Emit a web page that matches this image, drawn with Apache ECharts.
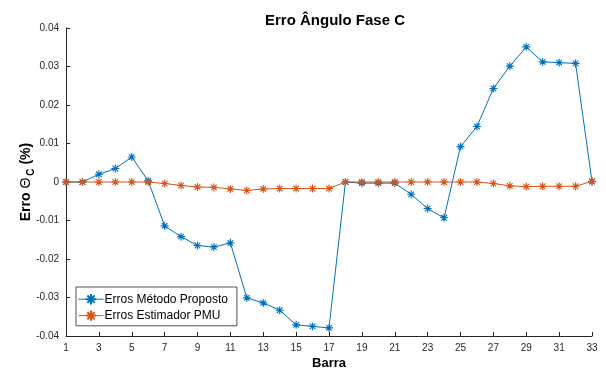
<!DOCTYPE html>
<html>
<head>
<meta charset="utf-8">
<script src="https://cdn.jsdelivr.net/npm/echarts@6/dist/echarts.min.js"></script>
<style>
  html, body { margin: 0; padding: 0; background: #fff; }
  #chart { width: 606px; height: 373px; }
</style>
</head>
<body>
<div id="chart"></div>
<script>
// Bus numbers (Barra 1..33)
const barras = Array.from({ length: 33 }, (_, i) => String(i + 1));

// Phase C angle error (%) — proposed method
const errosMetodoProposto = [
  0.0000, 0.0000, 0.0020, 0.0035, 0.0065, 0.0003, -0.0114, -0.0142, -0.0165, -0.0169,
  -0.0158, -0.0301, -0.0314, -0.0333, -0.0371, -0.0375, -0.0379, 0.0000, -0.0003, -0.0003,
  -0.0003, -0.0032, -0.0069, -0.0093, 0.0092, 0.0144, 0.0243, 0.0301, 0.0351, 0.0312,
  0.0310, 0.0308, 0.0001
];

// Phase C angle error (%) — PMU estimator
const errosEstimadorPMU = [
  0.0000, 0.0000, 0.0000, 0.0000, 0.0000, 0.0000, -0.0004, -0.0009, -0.0013, -0.0014,
  -0.0018, -0.0022, -0.0018, -0.0017, -0.0017, -0.0017, -0.0017, 0.0000, 0.0000, 0.0000,
  0.0000, 0.0000, 0.0000, 0.0000, 0.0000, 0.0000, -0.0004, -0.0010, -0.0012, -0.0011,
  -0.0011, -0.0011, 0.0002
];

const yTicks = { min: -0.04, max: 0.04, step: 0.01 };

// eight-armed asterisk marker, drawn as strokes
const asterisk = 'path://M5 0 L5 10 M0 5 L10 5 M1.5 1.5 L8.5 8.5 M1.5 8.5 L8.5 1.5';

const axisColor = '#262626';
const font = 'Liberation Sans, Arial, Helvetica, sans-serif';

const chart = echarts.init(document.getElementById('chart'), null, { renderer: 'canvas' });

function lineSeries(name, data, color) {
  return {
    name: name,
    type: 'line',
    data: data,
    symbol: asterisk,
    symbolSize: 8,
    symbolKeepAspect: true,
    lineStyle: { color: color, width: 1 },
    itemStyle: { color: 'rgba(0,0,0,0)', borderColor: color, borderWidth: 1.1 },
    emphasis: { disabled: true },
    animation: false
  };
}

chart.setOption({
  backgroundColor: '#fff',
  animation: false,
  title: {
    text: 'Erro Ângulo Fase C',
    left: 330,
    textAlign: 'center',
    top: 8,
    textStyle: { fontFamily: font, fontSize: 15, fontWeight: 'bold', color: '#000' }
  },
  grid: { left: 66, right: 14, top: 28, bottom: 37, containLabel: false, outerBoundsMode: 'none' },
  legend: {
    orient: 'vertical',
    left: 76,
    top: 287,
    padding: [6, 9, 4, 2],
    itemGap: 4,
    itemWidth: 25,
    itemHeight: 13,
    backgroundColor: '#fff',
    borderColor: axisColor,
    borderWidth: 0.8,
    borderRadius: 0,
    lineStyle: { width: 1 },
    textStyle: { fontFamily: font, fontSize: 12, color: '#000', padding: [0, 0, 0, -4] },
    data: ['Erros Método Proposto', 'Erros Estimador PMU']
  },
  xAxis: {
    type: 'category',
    data: barras,
    boundaryGap: false,
    name: 'Barra',
    nameLocation: 'middle',
    nameGap: 21,
    nameMoveOverlap: false,
    nameTextStyle: { fontFamily: font, fontSize: 13, fontWeight: 'bold', color: '#000' },
    axisLine: { onZero: false, lineStyle: { color: axisColor, width: 1 } },
    axisTick: { inside: true, length: 4, interval: 1, lineStyle: { color: axisColor } },
    axisLabel: { interval: 1, fontFamily: font, fontSize: 10, color: axisColor, margin: 7 },
    splitLine: { show: false }
  },
  yAxis: {
    type: 'value',
    min: yTicks.min,
    max: yTicks.max,
    interval: yTicks.step,
    name: '{b|Erro }{t|Θ}{s|C}{b| (%)}',
    nameLocation: 'middle',
    nameGap: 30,
    nameMoveOverlap: false,
    nameTextStyle: {
      fontFamily: font,
      color: '#000',
      rich: {
        b: { fontFamily: font, fontSize: 14, fontWeight: 'bold', color: '#000', verticalAlign: 'middle' },
        t: { fontFamily: font, fontSize: 14, fontWeight: 'normal', color: '#000', verticalAlign: 'middle' },
        s: { fontFamily: font, fontSize: 10, fontWeight: 'bold', color: '#000', verticalAlign: 'bottom', padding: [10, 0, 0, 2] }
      }
    },
    axisLine: { show: true, onZero: false, lineStyle: { color: axisColor, width: 1 } },
    axisTick: { show: true, inside: true, length: 4, lineStyle: { color: axisColor } },
    axisLabel: {
      fontFamily: font, fontSize: 10, color: axisColor, margin: 7,
      formatter: v => (Math.abs(v) < 1e-9 ? '0' : v.toFixed(2))
    },
    splitLine: { show: false }
  },
  series: [
    lineSeries('Erros Método Proposto', errosMetodoProposto, '#0072BD'),
    lineSeries('Erros Estimador PMU', errosEstimadorPMU, '#D95319')
  ]
});
</script>
</body>
</html>
